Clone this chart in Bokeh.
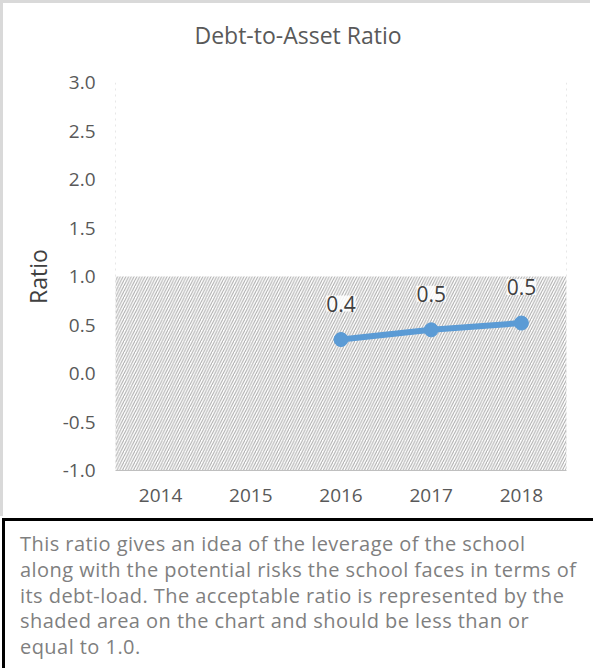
from bokeh.plotting import figure
from bokeh.models import (FactorRange, Range1d, FixedTicker, ColumnDataSource,
                          LabelSet, BoxAnnotation, Span, Div)
from bokeh.layouts import column
from bokeh.core.properties import value
from bokeh.embed import file_html
from bokeh.resources import INLINE

# ---- data ----
years = ["2014", "2015", "2016", "2017", "2018"]
ratio_years = ["2016", "2017", "2018"]
ratio_values = [0.35, 0.45, 0.52]
ratio_labels = ["0.4", "0.5", "0.5"]
y_ticks = [-1.0, -0.5, 0.0, 0.5, 1.0, 1.5, 2.0, 2.5, 3.0]
acceptable_max = 1.0
y_min, y_max = -1.0, 3.0
title_text = "Debt-to-Asset Ratio"
y_label = "Ratio"
note_lines = [
    "This ratio gives an idea of the leverage of the school",
    "along with the potential risks the school faces in terms of",
    "its debt-load. The acceptable ratio is represented by the",
    "shaded area on the chart and should be less than or",
    "equal to 1.0.",
]

FONT = "Open Sans"
GREY = "#595959"
BLUE = "#5b9bd5"
EDGE = "3px solid #d9d9d9"

# ---- title ----
title_div = Div(
    text=('<div style="width:590px;text-align:center;padding-top:18px;'
          "font-family:'Open Sans';font-size:23px;line-height:28px;"
          f'color:{GREY};">{title_text}</div>'),
    width=590, height=66, margin=(0, 0, 0, 0),
    styles={"border-left": EDGE, "border-top": EDGE, "background": "white"})

# ---- chart ----
W, H = 590, 450
ML, MR, MT, MB = 112, 27, 16, 46
p = figure(width=W, height=H, x_range=FactorRange(*years),
           y_range=Range1d(y_min, y_max), output_backend="svg",
           toolbar_location=None,
           min_border_left=ML, min_border_right=MR, min_border_top=MT,
           min_border_bottom=MB,
           styles={"border-left": EDGE})
p.outline_line_color = None
p.background_fill_color = "white"
p.border_fill_color = "white"

p.xgrid.grid_line_color = None
p.ygrid.grid_line_color = None

p.yaxis.ticker = FixedTicker(ticks=y_ticks)
p.yaxis.major_label_overrides = {t: f"{t:.1f}" for t in y_ticks}
p.yaxis.axis_line_color = None
p.yaxis.major_tick_line_color = None
p.yaxis.minor_tick_line_color = None
p.yaxis.major_label_text_font = FONT
p.yaxis.major_label_text_font_size = "19px"
p.yaxis.major_label_text_color = GREY
p.yaxis.major_label_standoff = 14
p.yaxis.axis_label = y_label
p.yaxis.axis_label_text_font = FONT
p.yaxis.axis_label_text_font_size = "23px"
p.yaxis.axis_label_text_font_style = "normal"
p.yaxis.axis_label_text_color = "#404040"
p.yaxis.axis_label_standoff = 6

p.xaxis.axis_line_color = "#bfbfbf"
p.xaxis.axis_line_width = 1
p.xaxis.major_tick_line_color = None
p.xaxis.minor_tick_line_color = None
p.xaxis.major_label_text_font = FONT
p.xaxis.major_label_text_font_size = "19px"
p.xaxis.major_label_text_color = GREY
p.xaxis.major_label_standoff = 12

# shaded acceptable area
p.add_layout(BoxAnnotation(top=acceptable_max, bottom=y_min, fill_alpha=0,
                           line_color=None, hatch_pattern="/",
                           hatch_color="#a8a8a8", hatch_scale=5.5,
                           hatch_weight=1, level="underlay"))
# dotted vertical boundaries
for loc in (0, len(years)):
    p.add_layout(Span(location=loc, dimension="height", line_color="#d0d0d0",
                      line_dash="2 4", line_width=1))

src = ColumnDataSource(dict(x=ratio_years, y=ratio_values, lab=ratio_labels))
p.line("x", "y", source=src, line_color=BLUE, line_width=6)
p.scatter("x", "y", source=src, size=14, fill_color=BLUE, line_color=BLUE)
p.add_layout(LabelSet(x="x", y="y", text="lab", source=src, y_offset=36,
                      text_align="center", text_baseline="middle",
                      text_font=value(FONT), text_font_size="21px",
                      text_color="#404040",
                      background_fill_color="white", background_fill_alpha=0.85))

# ---- note box ----
note_html = (
    '<div style="margin-left:2px;margin-top:2px;border-top:3px solid #000;'
    'border-left:3px solid #000;width:620px;height:200px;padding:10px 0 0 15px;'
    "font-family:'Open Sans';font-size:20px;letter-spacing:0.45px;"
    'line-height:25.8px;color:#7f7f7f;white-space:nowrap;">'
    + "<br>".join(note_lines) + "</div>"
)
note = Div(text=note_html, width=593, height=152, margin=(0, 0, 0, 0),
           styles={"overflow": "hidden"})

layout = column(title_div, p, note, spacing=0)
open("out.html", "w").write(file_html(layout, INLINE))
